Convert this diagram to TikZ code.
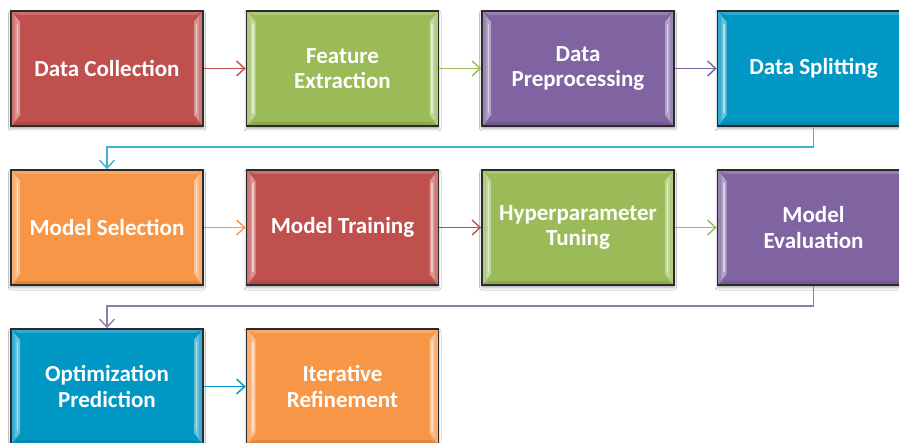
\documentclass[tikz,border=0pt]{standalone}
\usepackage{fontspec}
\setmainfont{Carlito}
\usetikzlibrary{arrows.meta,shadows.blur,calc}

\definecolor{cred}{HTML}{C0504D}
\definecolor{cgreen}{HTML}{9BBB59}
\definecolor{cpurple}{HTML}{8064A2}
\definecolor{cblue}{HTML}{0097C4}
\definecolor{corange}{HTML}{F79646}
\definecolor{edge}{HTML}{2B2B2B}

\tikzset{
  stage/.style={
    draw=edge, line width=1.8pt, fill=#1,
    minimum width=192pt, minimum height=115pt, inner sep=0pt,
    text=white, align=center,
    font=\fontsize{23}{25.5}\selectfont\bfseries,
    blur shadow={shadow xshift=0pt, shadow yshift=-2.5pt,
                 shadow blur radius=2.5pt, shadow opacity=35},
    path picture={
      \coordinate (pNW) at (path picture bounding box.north west);
      \coordinate (pNE) at (path picture bounding box.north east);
      \coordinate (pSW) at (path picture bounding box.south west);
      \coordinate (pSE) at (path picture bounding box.south east);
      % light top rim
      \fill[#1!82!white] ([shift={(1pt,-1pt)}]pNW) -- ([shift={(-1pt,-1pt)}]pNE)
        -- ([shift={(-8pt,-4pt)}]pNE) -- ([shift={(8pt,-4pt)}]pNW) -- cycle;
      % slightly darker bottom rim
      \fill[#1!90!black] ([shift={(1pt,1pt)}]pSW) -- ([shift={(-1pt,1pt)}]pSE)
        -- ([shift={(-8pt,4pt)}]pSE) -- ([shift={(8pt,4pt)}]pSW) -- cycle;
      % bevelled side bars
      \fill[#1!60!white] ([shift={(1pt,-1pt)}]pNW) -- ([shift={(9pt,-11pt)}]pNW)
        -- ([shift={(9pt,11pt)}]pSW) -- ([shift={(1pt,1pt)}]pSW) -- cycle;
      \fill[#1!60!white] ([shift={(-1pt,-1pt)}]pNE) -- ([shift={(-9pt,-11pt)}]pNE)
        -- ([shift={(-9pt,11pt)}]pSE) -- ([shift={(-1pt,1pt)}]pSE) -- cycle;
      \fill[#1!78!white] ([shift={(1pt,-1pt)}]pNW) -- ([shift={(4pt,-5pt)}]pNW)
        -- ([shift={(4pt,5pt)}]pSW) -- ([shift={(1pt,1pt)}]pSW) -- cycle;
      \fill[#1!78!white] ([shift={(-1pt,-1pt)}]pNE) -- ([shift={(-4pt,-5pt)}]pNE)
        -- ([shift={(-4pt,5pt)}]pSE) -- ([shift={(-1pt,1pt)}]pSE) -- cycle;
      \draw[white!70!#1, line width=1.4pt] ([shift={(6.5pt,-13pt)}]pNW) -- ([shift={(6.5pt,13pt)}]pSW);
      \draw[white!70!#1, line width=1.4pt] ([shift={(-6.5pt,-13pt)}]pNE) -- ([shift={(-6.5pt,13pt)}]pSE);
    }
  },
  flow/.style={draw=#1, line width=1.5pt,
    -{Straight Barb[length=8pt,width=15pt,line width=1.4pt]}},
}

\begin{document}
\begin{tikzpicture}[x=1pt,y=-1pt]
  \clip (0,0) rectangle (899,443);
  \fill[white] (0,0) rectangle (899,443);

  % first row
  \node[stage=cred]    (s1) at (107,68.5)   {Data Collection};
  \node[stage=cgreen]  (s2) at (342.5,68.5) {Feature\\Extraction};
  \node[stage=cpurple] (s3) at (578,68.5)   {Data\\Preprocessing};
  \node[stage=cblue]   (s4) at (813.5,68.5) {Data Splitting};

  % second row
  \node[stage=corange] (s5) at (107,227.5)   {Model Selection};
  \node[stage=cred]    (s6) at (342.5,227.5) {Model Training};
  \node[stage=cgreen]  (s7) at (578,227.5)   {Hyperparameter\\Tuning};
  \node[stage=cpurple] (s8) at (813.5,227.5) {Model\\Evaluation};

  % third row
  \node[stage=cblue]   (s9)  at (107,386.5)   {Optimization\\Prediction};
  \node[stage=corange] (s10) at (342.5,386.5) {Iterative\\Refinement};

  % connectors within rows
  \draw[flow=cred]    (s1.east) -- (s2.west);
  \draw[flow=cgreen]  (s2.east) -- (s3.west);
  \draw[flow=cpurple] (s3.east) -- (s4.west);
  \draw[flow=corange] (s5.east) -- (s6.west);
  \draw[flow=cred]    (s6.east) -- (s7.west);
  \draw[flow=cgreen]  (s7.east) -- (s8.west);
  \draw[flow=cblue]   (s9.east) -- (s10.west);

  % connectors between rows
  \draw[flow=cblue!75!white]   (s4.south) -- ++(0,20) -| (s5.north);
  \draw[flow=cpurple!85!white] (s8.south) -- ++(0,20) -| (s9.north);
\end{tikzpicture}
\end{document}
